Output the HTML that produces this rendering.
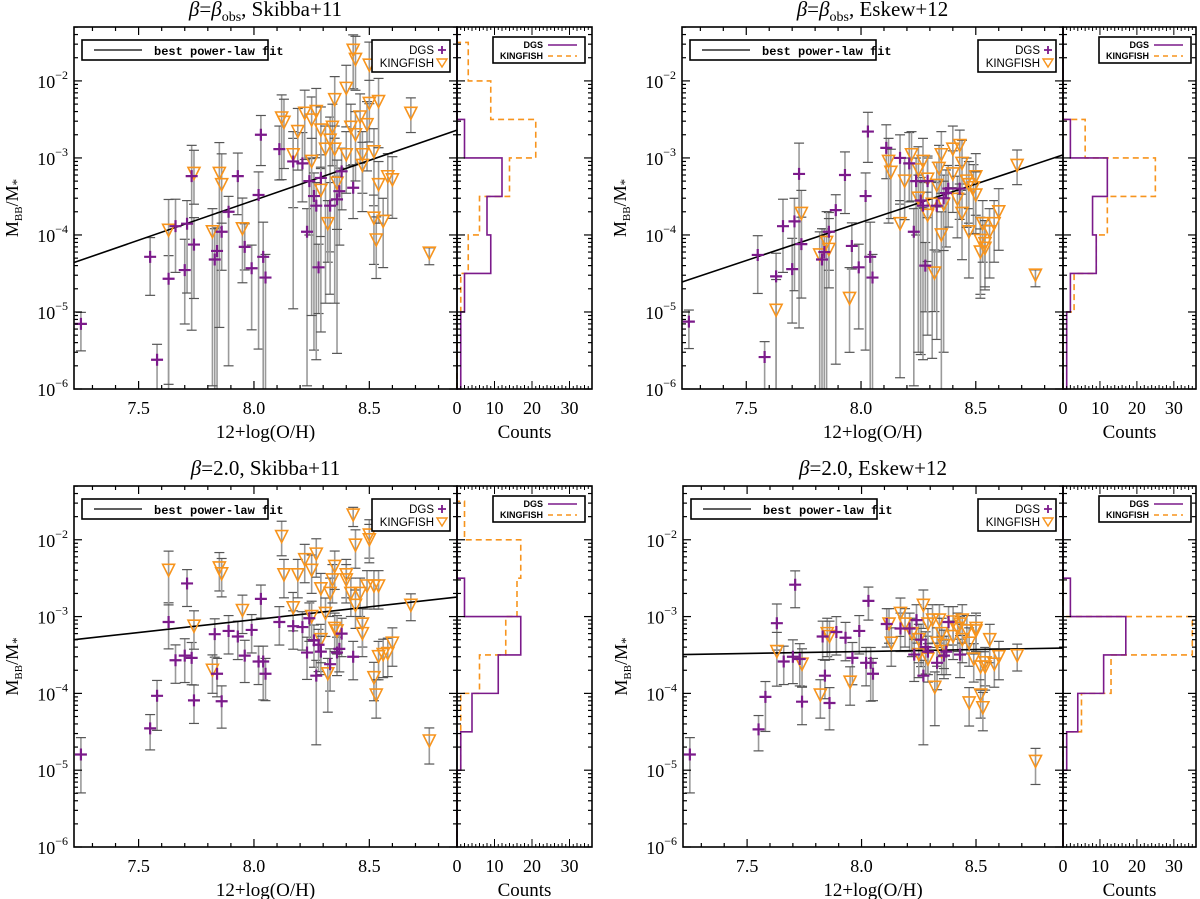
<!DOCTYPE html>
<html><head><meta charset="utf-8"><style>
html,body{margin:0;padding:0;background:#fff;}
svg{display:block;font-family:"Liberation Serif",serif;}
</style></head><body>
<svg id="fig" width="1200" height="899" viewBox="0 0 1200 899" xmlns="http://www.w3.org/2000/svg"></svg>
<script>
// ---- data ----
const dgsX=[7.25,7.55,7.58,7.63,7.66,7.70,7.71,7.73,7.74,7.83,7.84,7.86,7.89,7.93,7.96,7.99,8.02,8.03,8.04,8.05,8.11,8.17,8.21,8.23,8.24,8.26,8.27,8.28,8.29,8.33,8.36,8.37,8.38,8.43];
const dgsY_TL=[7e-6,5.2e-5,2.4e-6,2.7e-5,1.3e-4,3.5e-5,1.4e-4,5.8e-4,7.5e-5,4.8e-5,6.2e-5,1.1e-4,2e-4,5.8e-4,7e-5,3.7e-5,3.3e-4,2e-3,5.2e-5,2.8e-5,1.3e-3,9e-4,8.5e-4,1.1e-4,5e-4,3.2e-4,2.4e-4,3.8e-5,5.5e-4,2.4e-4,2.9e-4,3.7e-4,6.7e-4,4.1e-4];
const dgsY_TR=[7.5e-6,5.5e-5,2.6e-6,2.9e-5,1.3e-4,3.6e-5,1.5e-4,6.2e-4,7.6e-5,4.8e-5,6e-5,1.1e-4,2.1e-4,6e-4,7.2e-5,3.8e-5,3.2e-4,2.2e-3,5.2e-5,2.8e-5,1.35e-3,1e-3,8.5e-4,1.1e-4,5e-4,2.8e-4,2.4e-4,4e-5,5e-4,2.4e-4,3e-4,3.5e-4,4e-4,4e-4];
const dgsY_BL=[1.6e-5,3.5e-5,9.3e-5,8.5e-4,2.7e-4,3.1e-4,2.7e-3,2.9e-4,8.1e-5,5.9e-4,1.8e-4,7.9e-5,6.5e-4,5.5e-4,3.1e-4,6.7e-4,2.6e-4,1.7e-3,2.6e-4,1.8e-4,8.5e-4,7.5e-4,7.3e-4,3.4e-4,9.5e-4,4.9e-4,1.7e-4,4.3e-4,3.5e-4,2.4e-4,3.4e-4,3.8e-4,6e-4,3e-4];
const dgsY_BR=[1.6e-5,3.4e-5,9e-5,8.2e-4,2.6e-4,3e-4,2.6e-3,2.8e-4,7.8e-5,5.5e-4,1.7e-4,7.5e-5,6.3e-4,5.3e-4,2.9e-4,6.5e-4,2.5e-4,1.6e-3,2.5e-4,1.8e-4,8e-4,7e-4,7e-4,3.2e-4,9e-4,5e-4,1.7e-4,4e-4,3.5e-4,2.5e-4,3.1e-4,3.5e-4,8.5e-4,3.2e-4];
const dgsErrLoObs=[0.35,0.5,1,2,0.6,0.7,0.9,2,0.7,2,2,0.5,2,0.5,0.3,0.8,2,0.4,2,2,0.4,0.6,0.5,2,0.7,2,2,0.6,2,0.6,2,0.7,0.5,0.4];
const dgsErrHiObs=[0.15,0.25,0.2,0.3,0.35,0.4,0.3,0.4,0.35,0.4,0.3,0.25,0.2,0.3,0.3,0.3,0.3,0.25,0.45,0.3,0.3,0.3,0.4,0.3,0.3,0.3,0.3,0.3,0.3,0.3,0.3,0.3,0.3,0.3];
const dgsErrLoB2=[0.5,0.28,0.45,0.35,0.3,0.35,0.3,0.35,0.3,0.3,0.3,0.35,0.3,0.3,0.35,0.3,0.3,0.25,0.5,0.35,0.3,0.3,0.3,0.35,0.3,0.35,0.9,0.35,0.3,0.35,0.3,0.3,0.3,0.3];
const dgsErrHiB2=[0.22,0.18,0.2,0.25,0.2,0.22,0.18,0.2,0.2,0.2,0.2,0.2,0.2,0.2,0.2,0.2,0.2,0.18,0.2,0.2,0.2,0.2,0.2,0.2,0.2,0.2,0.2,0.2,0.2,0.2,0.2,0.2,0.2,0.2];
const kfX=[7.63,7.74,7.82,7.85,7.86,7.95,8.12,8.13,8.17,8.19,8.22,8.25,8.27,8.25,8.29,8.29,8.31,8.32,8.33,8.34,8.35,8.35,8.36,8.40,8.40,8.42,8.43,8.44,8.44,8.46,8.47,8.47,8.49,8.50,8.50,8.52,8.52,8.53,8.54,8.54,8.56,8.58,8.60,8.68,8.76];
const kfY_TL=[1.15e-4,6.3e-4,1.1e-4,6.3e-4,4.5e-4,1.2e-4,3.3e-3,2.9e-3,1.1e-3,2.2e-3,3.8e-3,3.1e-3,4e-3,9e-4,2.3e-3,3.8e-4,1.3e-3,1.4e-4,1.7e-3,2.5e-3,5.7e-3,1.3e-3,4.7e-4,1.1e-3,8e-3,2.5e-3,2.5e-2,2e-3,1.9e-2,3.4e-3,1.1e-3,8e-4,2.7e-3,1.6e-2,5.1e-3,1.2e-3,1.65e-4,8.6e-5,5.4e-3,4.5e-4,1.5e-4,5.7e-4,5.2e-4,3.8e-3,5.8e-5];
const kfY_TR=[1.05e-5,1.9e-4,5.5e-5,8e-5,6.5e-5,1.5e-5,9e-4,6.5e-4,1.4e-4,5e-4,1.1e-3,7e-4,9e-4,3e-4,5.3e-4,1.8e-4,2.5e-4,3.2e-5,4.4e-4,7.3e-4,1.1e-3,1e-4,2.5e-4,6.2e-4,1.3e-3,2.9e-4,1.45e-3,1.9e-4,8.5e-4,5e-4,4.5e-4,1.1e-4,4.1e-4,5.7e-4,3.3e-4,8.5e-5,6e-5,1.4e-4,7.7e-5,6.7e-5,1.1e-4,1.4e-4,2e-4,8e-4,3e-5];
const kfY_BL=[4e-3,7.5e-4,2e-4,4.3e-3,3.6e-3,1.2e-3,1.1e-2,3.5e-3,1.3e-3,3.5e-3,5.5e-3,4e-3,6.5e-3,1e-3,2.3e-3,5e-4,1.1e-3,1.8e-4,2e-3,3e-3,4.5e-3,7e-4,6.5e-4,3.5e-3,3e-3,2e-3,2.1e-2,1.4e-3,8.5e-3,2e-3,8e-4,6e-4,2.5e-3,1.15e-2,1e-2,2.5e-3,1.6e-4,9.5e-5,2.5e-3,3e-4,3.2e-4,3.3e-4,4.5e-4,1.4e-3,2.4e-5];
const kfY_BR=[3.5e-4,2.4e-4,9.5e-5,6e-4,5.5e-4,1.4e-4,8e-4,4.5e-4,1.1e-3,8e-4,6e-4,5e-4,1.4e-3,3.2e-4,8e-4,2.8e-4,9e-4,1.2e-4,4.5e-4,9e-4,6e-4,3.5e-4,4.2e-4,8.5e-4,5.5e-4,7e-4,8e-4,5e-4,9e-4,6.5e-4,4.5e-4,7.5e-5,2.8e-4,6.5e-4,7e-4,2.2e-4,9.5e-5,6.5e-5,2.5e-4,2.2e-4,5e-4,2.4e-4,3e-4,3.1e-4,1.3e-5];
const kfErrLoObs=[2,0.4,2,2,0.5,0.7,0.8,0.6,2,0.5,0.6,0.5,0.6,2,0.5,0.6,2,0.5,2,0.5,0.5,2,0.6,0.5,0.5,0.5,0.5,0.6,0.4,0.6,0.5,0.6,0.6,0.5,0.5,0.7,0.6,0.5,0.6,0.5,0.6,0.5,0.5,0.25,0.15];
const kfErrHiObs=[0.4,0.3,0.3,0.4,0.4,0.4,0.3,0.3,0.3,0.3,0.3,0.3,0.3,0.3,0.3,0.3,0.3,0.3,0.3,0.3,0.3,0.3,0.3,0.3,0.3,0.3,0.2,0.3,0.3,0.3,0.3,0.3,0.3,0.3,0.3,0.3,0.3,0.3,0.3,0.3,0.3,0.3,0.3,0.2,0.07];
const kfErrLoB2=[0.45,0.3,0.3,0.3,0.3,0.3,0.25,0.3,0.3,0.3,0.3,0.3,0.3,0.3,0.3,0.3,0.3,0.5,0.3,0.3,0.3,0.3,0.3,0.3,0.3,0.3,0.15,0.3,0.3,0.3,0.3,0.3,0.3,0.3,0.3,0.3,0.3,0.3,0.3,0.3,0.3,0.3,0.3,0.2,0.3];
const kfErrHiB2=[0.25,0.2,0.2,0.2,0.2,0.2,0.2,0.2,0.2,0.2,0.2,0.2,0.2,0.2,0.2,0.2,0.2,0.2,0.2,0.2,0.2,0.2,0.2,0.2,0.2,0.2,0.1,0.2,0.2,0.2,0.2,0.2,0.2,0.2,0.2,0.2,0.2,0.2,0.2,0.2,0.2,0.2,0.2,0.15,0.17];
// fit: log10(y) = a + b*(x-8)
const fitA=[-3.55,-3.835,-3.04,-3.455];
const fitB=[1.036,0.994,0.334,0.051];
// histogram bins: log10 edges -6..-1 step 0.5
const binEdges=[-6,-5.5,-5,-4.5,-4,-3.5,-3,-2.5,-2,-1.5,-1];
const hDGS_TL=[1,1,2,9,8,12,2,0,0,0];
const hKF_TL=[0,0,1,3,6,14,21,9,3,0];
const hDGS_TR=[1,1,2,9,8,12,2,0,0,0];
const hKF_TR=[0,0,3,9,12,25,6,0,0,0];
const hDGS_BL=[0,0,1,4,11,17,2,0,0,0];
const hKF_BL=[0,0,1,1,6,13,16,17,2,0];
const hDGS_BR=[0,0,1,4,11,17,2,0,0,0];
const hKF_BR=[0,0,0,5,13,35,0,0,0,0];
const xTicks=[7.5,8.0,8.5];
const xTickLabels=["7.5","8.0","8.5"];
const yTickExp=[-2,-3,-4,-5,-6];
const hTicks=[0,10,20,30];

const NS="http://www.w3.org/2000/svg";
const svg=document.getElementById('fig');
function el(tag,attrs,parent){const e=document.createElementNS(NS,tag);for(const k in attrs)e.setAttribute(k,attrs[k]);(parent||svg).appendChild(e);return e;}

const PURPLE="#7b1a8a", ORANGE="#f7941d";
const panels=[
 {key:'tl',x0:74,x1:457,x2:592,yT:27,yB:389,title:'obs',ref:'Skibba+11',dY:dgsY_TL,kY:kfY_TL,dLo:dgsErrLoObs,dHi:dgsErrHiObs,kLo:kfErrLoObs,kHi:kfErrHiObs,hd:hDGS_TL,hk:hKF_TL,fi:0},
 {key:'tr',x0:682,x1:1063,x2:1196,yT:27,yB:389,title:'obs',ref:'Eskew+12',dY:dgsY_TR,kY:kfY_TR,dLo:dgsErrLoObs,dHi:dgsErrHiObs,kLo:kfErrLoObs,kHi:kfErrHiObs,hd:hDGS_TR,hk:hKF_TR,fi:1},
 {key:'bl',x0:74,x1:457,x2:592,yT:486,yB:847,title:'2.0',ref:'Skibba+11',dY:dgsY_BL,kY:kfY_BL,dLo:dgsErrLoB2,dHi:dgsErrHiB2,kLo:kfErrLoB2,kHi:kfErrHiB2,hd:hDGS_BL,hk:hKF_BL,fi:2},
 {key:'br',x0:683,x1:1063,x2:1196,yT:486,yB:847,title:'2.0',ref:'Eskew+12',dY:dgsY_BR,kY:kfY_BR,dLo:dgsErrLoB2,dHi:dgsErrHiB2,kLo:kfErrLoB2,kHi:kfErrHiB2,hd:hDGS_BR,hk:hKF_BR,fi:3}
];
const XMIN=7.22,XMAX=8.88,LMIN=-6,LMAX=-1.3,HMAX=36;

panels.forEach(p=>{
 const g=el('g',{});
 
 
 const X=v=>p.x0+(v-XMIN)/(XMAX-XMIN)*(p.x1-p.x0);
 const Y=l=>p.yT+(LMAX-l)/(LMAX-LMIN)*(p.yB-p.yT);
 const H=c=>p.x1+c/HMAX*(p.x2-p.x1);
 const clipL=l=>Math.max(LMIN,Math.min(LMAX,l));

 // title
 const cx=(p.x0+p.x1)/2;
 const t=el('text',{x:cx,y:p.yT-11,'text-anchor':'middle','font-size':21},g);
 
 
 if(p.title==='obs'){
  t.innerHTML='<tspan font-style="italic">β</tspan>=<tspan font-style="italic">β</tspan><tspan font-size="14" dy="5">obs</tspan><tspan dy="-5">,  '+p.ref+'</tspan>';
 } else {
  t.innerHTML='<tspan font-style="italic">β</tspan>=2.0,  '+p.ref;
 }

 // error bars
 function errs(xs,ys,lo,hi,nm){
  const eg=el('g',{},g);
  
  
  xs.forEach((xv,i)=>{
   const l=Math.log10(ys[i]);
   const a=l-lo[i], b=l+hi[i];
   const px=X(xv);
   el('line',{x1:px,x2:px,y1:Y(clipL(a)),y2:Y(clipL(b)),stroke:'#9a9a9a','stroke-width':1.6},eg);
   if(a>LMIN) el('line',{x1:px-5,x2:px+5,y1:Y(a),y2:Y(a),stroke:'#555','stroke-width':1.2},eg);
   if(b<LMAX) el('line',{x1:px-5,x2:px+5,y1:Y(b),y2:Y(b),stroke:'#555','stroke-width':1.2},eg);
  });
 }
 errs(dgsX,p.dY,p.dLo,p.dHi,'dgs-error-bars');
 errs(kfX,p.kY,p.kLo,p.kHi,'kingfish-error-bars');

 // fit line
 const fl=el('line',{x1:X(XMIN),y1:Y(fitA[p.fi]+fitB[p.fi]*(XMIN-8)),x2:X(XMAX),y2:Y(fitA[p.fi]+fitB[p.fi]*(XMAX-8)),stroke:'#000','stroke-width':1.6},g);
 
 

 // markers
 const mk=el('g',{},g);
 
 
 kfX.forEach((xv,i)=>{
  const px=X(xv),py=Y(Math.log10(p.kY[i]));
  const tri=el('polygon',{points:`${px-6},${py-6} ${px+6},${py-6} ${px},${py+6}`,fill:'none',stroke:ORANGE,'stroke-width':1.6},mk);
  
  
 });
 const md=el('g',{},g);
 
 
 dgsX.forEach((xv,i)=>{
  const px=X(xv),py=Y(Math.log10(p.dY[i]));
  const pl=el('path',{d:`M${px-6},${py}H${px+6}M${px},${py-6}V${py+6}`,stroke:PURPLE,'stroke-width':2.2},md);
  
  
 });

 // histogram steps
 function hist(counts,color,dash,nm){
  let d=`M${H(0)},${Y(LMIN)}`;
  counts.forEach((c,i)=>{
   const lo=binEdges[i], hi=Math.min(binEdges[i+1],LMAX);
   if(lo>=LMAX) return;
   d+=`H${H(c)}V${Y(hi)}`;
  });
  d+=`H${H(0)}`;
  const ph=el('path',{d:d,fill:'none',stroke:color,'stroke-width':1.6,'stroke-dasharray':dash},g);
  
  
 }
 hist(p.hk,ORANGE,'6,4','kingfish-histogram');
 hist(p.hd,PURPLE,'none','dgs-histogram');

 // axes frames
 const ax=el('g',{},g);
 
 
 el('rect',{x:p.x0,y:p.yT,width:p.x1-p.x0,height:p.yB-p.yT,fill:'none',stroke:'#000','stroke-width':1.6},ax);
 el('rect',{x:p.x1,y:p.yT,width:p.x2-p.x1,height:p.yB-p.yT,fill:'none',stroke:'#000','stroke-width':1.6},ax);
 for(let k=0;k<=16;k++){
  const v=7.3+k*0.1; if(v>XMAX) break;
  const maj=Math.abs((v*2)-Math.round(v*2))<1e-6;
  const len=maj?8:4, px=X(v);
  el('line',{x1:px,x2:px,y1:p.yB,y2:p.yB-len,stroke:'#000','stroke-width':1.2},ax);
  el('line',{x1:px,x2:px,y1:p.yT,y2:p.yT+len,stroke:'#000','stroke-width':1.2},ax);
 }
 xTicks.forEach((v,i)=>{
  const tl=el('text',{x:X(v),y:p.yB+25,'text-anchor':'middle','font-size':18},ax);
  tl.textContent=xTickLabels[i];
  
  
 });
 for(let e=-6;e<=-2;e++){
  for(let m=1;m<=9;m++){
   const l=e+Math.log10(m); if(l>LMAX) break;
   const len=m===1?8:4, py=Y(l);
   [[p.x0,1],[p.x1,-1],[p.x1,1],[p.x2,-1]].forEach(([bx,dir])=>{
    el('line',{x1:bx,x2:bx+dir*len,y1:py,y2:py,stroke:'#000','stroke-width':1.2},ax);
   });
  }
 }
 yTickExp.forEach(e=>{
  const tl=el('text',{x:p.x0-6,y:Y(e)+7,'text-anchor':'end','font-size':18},ax);
  tl.innerHTML='10<tspan font-size="12" dy="-9">'+(e<0?'−':'')+Math.abs(e)+'</tspan>';
  
  
 });
 for(let c=0;c<=HMAX;c++){
  const len=c%10===0?8:(c%2===0?4:3), px=H(c);
  el('line',{x1:px,x2:px,y1:p.yB,y2:p.yB-len,stroke:'#000','stroke-width':1},ax);
  el('line',{x1:px,x2:px,y1:p.yT,y2:p.yT+len,stroke:'#000','stroke-width':1},ax);
 }
 hTicks.forEach(c=>{
  const tl=el('text',{x:H(c),y:p.yB+25,'text-anchor':'middle','font-size':18},ax);
  tl.textContent=String(c);
  
  
 });
 const xt=el('text',{x:cx,y:p.yB+49,'text-anchor':'middle','font-size':19},g);
 xt.textContent='12+log(O/H)';
 
 
 const ct=el('text',{x:(p.x1+p.x2)/2,y:p.yB+49,'text-anchor':'middle','font-size':19},g);
 ct.textContent='Counts';
 
 
 const yc=(p.yT+p.yB)/2;
 const yt=el('text',{x:0,y:0,'text-anchor':'middle','font-size':18,transform:`translate(${p.x0-56},${yc}) rotate(-90)`},g);
 yt.innerHTML='M<tspan font-size="11" dy="4">BB</tspan><tspan dy="-4">/M</tspan><tspan font-size="13" dy="3">*</tspan>';
 
 

 // legends
 const lg1=el('g',{},g);
 
 
 el('rect',{x:p.x0+8,y:p.yT+13,width:186,height:20,fill:'#fff',stroke:'#000','stroke-width':1.6},lg1);
 el('line',{x1:p.x0+20,x2:p.x0+68,y1:p.yT+23,y2:p.yT+23,stroke:'#000','stroke-width':1.3},lg1);
 const lt=el('text',{x:p.x0+80,y:p.yT+28,'font-size':12,'font-weight':'bold','font-family':'"Liberation Mono",monospace'},lg1);
 lt.textContent='best power-law fit';

 const lg2=el('g',{},g);
 
 
 const lx=p.x1-85;
 el('rect',{x:lx,y:p.yT+13,width:78,height:32,fill:'#fff',stroke:'#000','stroke-width':1.6},lg2);
 const a1=el('text',{x:lx+62,y:p.yT+27,'text-anchor':'end','font-size':11.5,'font-family':'"Liberation Sans",sans-serif'},lg2);a1.textContent='DGS';
 el('path',{d:`M${lx+66},${p.yT+23}h8M${lx+70},${p.yT+19}v8`,stroke:PURPLE,'stroke-width':1.8},lg2);
 const a2=el('text',{x:lx+62,y:p.yT+40,'text-anchor':'end','font-size':11.5,'font-family':'"Liberation Sans",sans-serif'},lg2);a2.textContent='KINGFISH';
 el('polygon',{points:`${lx+65},${p.yT+32} ${lx+75},${p.yT+32} ${lx+70},${p.yT+40}`,fill:'none',stroke:ORANGE,'stroke-width':1.4},lg2);

 const lg3=el('g',{},g);
 
 
 const hx=p.x1+36;
 el('rect',{x:hx,y:p.yT+10,width:92,height:26,fill:'#fff',stroke:'#000','stroke-width':1.6},lg3);
 const b1=el('text',{x:hx+50,y:p.yT+21,'text-anchor':'end','font-size':9,'font-weight':'bold','font-family':'"Liberation Sans",sans-serif'},lg3);b1.textContent='DGS';
 el('line',{x1:hx+55,x2:hx+84,y1:p.yT+18,y2:p.yT+18,stroke:PURPLE,'stroke-width':1.6},lg3);
 const b2=el('text',{x:hx+50,y:p.yT+32,'text-anchor':'end','font-size':9,'font-weight':'bold','font-family':'"Liberation Sans",sans-serif'},lg3);b2.textContent='KINGFISH';
 el('line',{x1:hx+55,x2:hx+84,y1:p.yT+29,y2:p.yT+29,stroke:ORANGE,'stroke-width':1.6,'stroke-dasharray':'5,4'},lg3);
});
</script>
</body></html>
